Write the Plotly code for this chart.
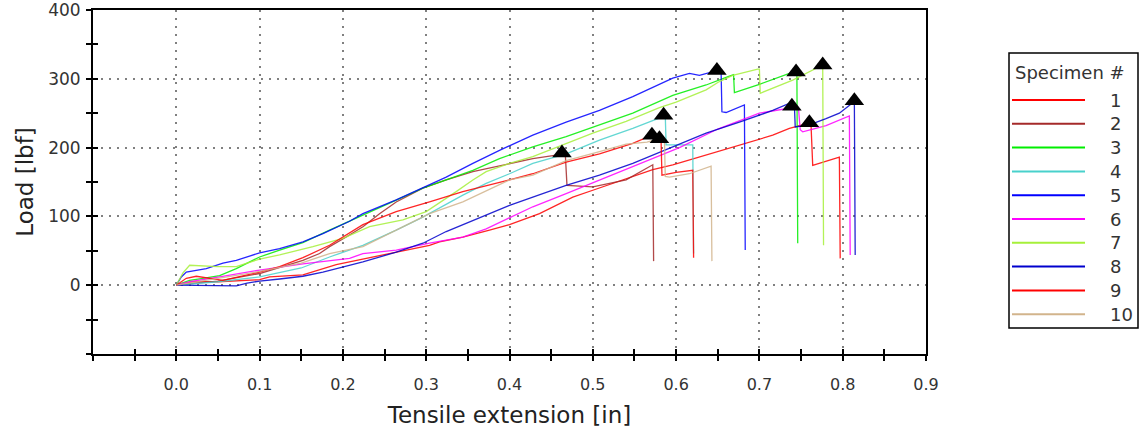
import plotly.graph_objects as go

# ---------------- data ----------------
specimens = ["1", "2", "3", "4", "5", "6", "7", "8", "9", "10"]
colors = ["#FF0000", "#A52A2A", "#00EE00", "#48D1CC", "#0000FF",
          "#FF00FF", "#A6F03A", "#0000CD", "#FF0000", "#D2B48C"]

x1 = [0, 0.02, 0.05, 0.1, 0.112, 0.152, 0.192, 0.224, 0.252, 0.304, 0.316, 0.344, 0.376, 0.40, 0.436,
      0.476, 0.50, 0.548, 0.572, 0.596, 0.636, 0.676, 0.716, 0.736, 0.758, 0.762, 0.764, 0.796, 0.797]
y1 = [0, 5, 5, 8, 12, 15, 30, 38, 44, 58, 63, 70, 80, 88, 104,
      128, 138, 158, 168, 175, 189, 204, 218, 228, 235, 232, 174, 186, 39]

x2 = [0, 0.05, 0.1, 0.152, 0.172, 0.184, 0.204, 0.224, 0.244, 0.264, 0.296, 0.324, 0.356, 0.40,
      0.428, 0.462, 0.467, 0.469, 0.50, 0.54, 0.572, 0.573]
y2 = [0, 6, 17, 36, 46, 56, 70, 85, 104, 121, 141, 153, 165, 177,
      184, 190, 190, 145, 143, 153, 175, 35]

x3 = [0, 0.016, 0.032, 0.052, 0.072, 0.1, 0.124, 0.152, 0.184, 0.224, 0.264, 0.296, 0.324, 0.356,
      0.388, 0.428, 0.468, 0.508, 0.548, 0.596, 0.636, 0.664, 0.669, 0.670, 0.70, 0.736, 0.745, 0.746]
y3 = [0, 7, 10, 14, 24, 41, 51, 62, 80, 102, 124, 141, 153, 167,
      184, 201, 216, 233, 250, 276, 291, 304, 306, 280, 292, 308, 310, 61]

x4 = [0, 0.05, 0.1, 0.15, 0.184, 0.224, 0.264, 0.296, 0.344, 0.372, 0.40, 0.428, 0.468, 0.508,
      0.548, 0.578, 0.585, 0.587, 0.588, 0.62, 0.621]
y4 = [0, 5, 12, 25, 41, 58, 80, 99, 131, 148, 162, 177, 191, 211,
      228, 242, 247, 247, 204, 204, 46]

x5 = [0, 0.006, 0.012, 0.036, 0.056, 0.072, 0.1, 0.124, 0.152, 0.176, 0.208, 0.224, 0.264, 0.296,
      0.324, 0.356, 0.388, 0.428, 0.468, 0.508, 0.548, 0.596, 0.616, 0.628, 0.649, 0.654, 0.655,
      0.66, 0.682, 0.683]
y5 = [0, 12, 19, 24, 32, 36, 47, 53, 63, 75, 93, 104, 124, 141,
      157, 177, 196, 218, 237, 254, 274, 301, 308, 305, 312, 312, 252,
      251, 262, 51]

x6 = [0, 0.016, 0.052, 0.1, 0.152, 0.208, 0.224, 0.264, 0.304, 0.344, 0.372, 0.40, 0.428, 0.468,
      0.508, 0.548, 0.604, 0.65, 0.70, 0.744, 0.747, 0.749, 0.752, 0.78, 0.808, 0.809]
y6 = [0, 5, 12, 22, 31, 39, 46, 51, 61, 70, 82, 98, 114, 133,
      153, 172, 200, 227, 250, 259, 256, 226, 223, 232, 246, 44]

x7 = [0, 0.008, 0.016, 0.03, 0.05, 0.072, 0.1, 0.124, 0.164, 0.2, 0.232, 0.272, 0.30, 0.336,
      0.356, 0.372, 0.40, 0.428, 0.458, 0.50, 0.54, 0.58, 0.60, 0.636, 0.652, 0.668, 0.698,
      0.700, 0.701, 0.74, 0.776, 0.777]
y7 = [0, 18, 29, 28, 27, 27, 38, 44, 56, 68, 85, 95, 107, 136,
      153, 165, 177, 187, 201, 221, 238, 258, 266, 284, 296, 305, 314,
      314, 279, 298, 320, 58]

x8 = [0, 0.04, 0.072, 0.085, 0.1, 0.124, 0.152, 0.176, 0.208, 0.224, 0.264, 0.296, 0.324, 0.356,
      0.40, 0.428, 0.468, 0.508, 0.548, 0.596, 0.636, 0.676, 0.716, 0.735, 0.742, 0.743, 0.76,
      0.78, 0.796, 0.814, 0.815]
y8 = [0, -1, -1, 3, 6, 9, 13, 19, 29, 34, 48, 61, 78, 94,
      116, 128, 145, 160, 177, 201, 221, 237, 254, 264, 262, 230, 233,
      242, 250, 267, 44]

x9 = [0, 0.012, 0.024, 0.056, 0.1, 0.124, 0.152, 0.184, 0.224, 0.264, 0.304, 0.344, 0.40, 0.428,
      0.468, 0.508, 0.548, 0.571, 0.578, 0.582, 0.583, 0.60, 0.62, 0.621]
y9 = [0, 10, 13, 7, 19, 27, 40, 58, 88, 107, 121, 136, 153, 162,
      179, 191, 206, 218, 214, 208, 160, 164, 167, 40]

x10 = [0, 0.05, 0.1, 0.15, 0.184, 0.224, 0.264, 0.304, 0.344, 0.40, 0.428, 0.468, 0.508, 0.54,
       0.565, 0.580, 0.586, 0.587, 0.592, 0.616, 0.642, 0.643]
y10 = [0, 10, 20, 32, 46, 56, 80, 104, 121, 153, 160, 181, 194, 205,
       208, 213, 212, 158, 157, 162, 173, 35]

xs = [x1, x2, x3, x4, x5, x6, x7, x8, x9, x10]
ys = [y1, y2, y3, y4, y5, y6, y7, y8, y9, y10]

# peak (break) markers, one per specimen
peak_x = [0.760, 0.463, 0.744, 0.585, 0.649, 0.739, 0.776, 0.814, 0.571, 0.580]
peak_y = [236, 192, 310, 247, 312, 260, 320, 268, 218, 213]

x_ticks = [0.0, 0.1, 0.2, 0.3, 0.4, 0.5, 0.6, 0.7, 0.8, 0.9]
y_ticks = [0, 100, 200, 300, 400]
x_range = [-0.1, 0.9]
y_range = [-100, 400]

# ---------------- figure ----------------
W, H = 1140, 440
ML, MR, MT, MB = 93, 214, 10, 86
PW, PH = W - ML - MR, H - MT - MB


def px2x(px):
    return (px - ML) / PW


def px2y(py):
    return (H - MB - py) / PH


fig = go.Figure()
for name, c, xx, yy in zip(specimens, colors, xs, ys):
    fig.add_trace(go.Scatter(x=xx, y=yy, mode="lines", name=name,
                             line=dict(color=c, width=1.3), opacity=0.85,
                             showlegend=False, hoverinfo="skip"))

fig.add_trace(go.Scatter(x=peak_x, y=peak_y, mode="markers", showlegend=False,
                         marker=dict(symbol="triangle-up", size=17, color="black"),
                         hoverinfo="skip"))

# dummy trace carrying the overlay axes used for the inner halves of the ticks
fig.add_trace(go.Scatter(x=[None], y=[None], xaxis="x2", yaxis="y2",
                         showlegend=False, hoverinfo="skip"))

common_axis = dict(showline=True, linecolor="black", linewidth=2, zeroline=False,
                   ticks="outside", ticklen=5, tickwidth=2, tickcolor="black",
                   showgrid=True, gridcolor="#808080", gridwidth=2, griddash="2px,6px",
                   automargin=False, ticklabeloverflow="allow")

fig.update_layout(
    width=W, height=H,
    margin=dict(l=ML, r=MR, t=MT, b=MB, autoexpand=False),
    paper_bgcolor="white", plot_bgcolor="white",
    font=dict(family="DejaVu Sans", color="#333"),
    xaxis=dict(range=x_range, tickmode="array", tickvals=x_ticks,
               ticktext=[f"{v:.1f}" for v in x_ticks], mirror=True,
               tickfont=dict(family="DejaVu Sans", size=16, color="#333"),
               ticklabelstandoff=10,
               minor=dict(tickmode="linear", tick0=0, dtick=0.05, ticks="outside",
                          ticklen=5, tickwidth=2, tickcolor="black", showgrid=False),
               title=dict(text="Tensile extension [in]",
                          font=dict(family="DejaVu Sans", size=23, color="#222"),
                          standoff=14),
               **common_axis),
    yaxis=dict(range=y_range, tickmode="array", tickvals=y_ticks, mirror=True,
               tickfont=dict(family="DejaVu Sans", size=17, color="#333"),
               ticklabelstandoff=2,
               minor=dict(tickmode="linear", tick0=0, dtick=50, ticks="outside",
                          ticklen=5, tickwidth=2, tickcolor="black", showgrid=False),
               title=dict(text="Load [lbf]",
                          font=dict(family="DejaVu Sans", size=23, color="#222"),
                          standoff=8),
               **common_axis),
    xaxis2=dict(overlaying="x", anchor="y2", range=x_range, tickmode="linear", tick0=0,
                dtick=0.05, ticks="inside", ticklen=5, tickwidth=2, tickcolor="black",
                showticklabels=False, showgrid=False, showline=False, zeroline=False),
    yaxis2=dict(overlaying="y", anchor="x2", range=y_range, tickmode="linear", tick0=0,
                dtick=50, ticks="inside", ticklen=5, tickwidth=2, tickcolor="black",
                showticklabels=False, showgrid=False, showline=False, zeroline=False),
)

# ---------------- legend box (drawn to match the reference layout) ----------------
fig.add_shape(type="rect", xref="paper", yref="paper",
              x0=px2x(1009), x1=px2x(1138), y0=px2y(328), y1=px2y(53),
              line=dict(color="black", width=1.5), fillcolor="white")
fig.add_annotation(xref="paper", yref="paper", x=px2x(1013), y=px2y(72),
                   text="Specimen #", showarrow=False, xanchor="left", yanchor="middle",
                   font=dict(family="DejaVu Sans", size=18, color="#333"))
for i, (name, c) in enumerate(zip(specimens, colors)):
    yy = 100 + i * 23.8
    fig.add_shape(type="line", xref="paper", yref="paper",
                  x0=px2x(1012), x1=px2x(1085), y0=px2y(yy), y1=px2y(yy),
                  line=dict(color=c, width=2))
    fig.add_annotation(xref="paper", yref="paper", x=px2x(1108), y=px2y(yy),
                       text=name, showarrow=False, xanchor="left", yanchor="middle",
                       font=dict(family="DejaVu Sans", size=18, color="#333"))

fig.write_html("out.html", config={"displayModeBar": False},
               post_script="document.body.style.margin='0';")
